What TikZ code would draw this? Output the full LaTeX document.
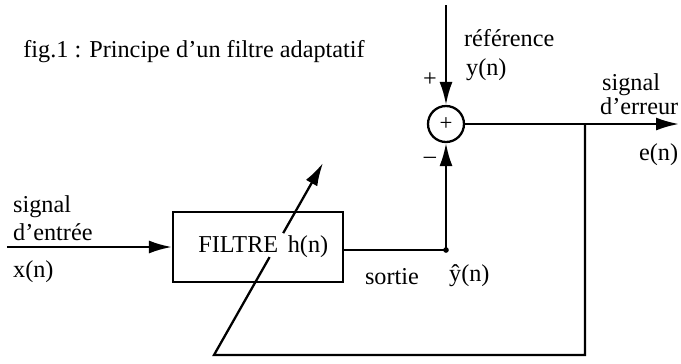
\documentclass[tikz,border=0pt]{standalone}
\usepackage{fontspec}
\setmainfont{Liberation Serif}
\usetikzlibrary{arrows.meta,calc}

\begin{document}
\begin{tikzpicture}[x=0.02cm,y=-0.02cm,line width=1.3pt,
    fleche/.style={-{Latex[length=4.6mm,width=2.6mm]}},
    txt/.style={inner sep=0pt,font=\fontsize{13.8}{16}\selectfont},
    bloc/.style={draw,minimum width=3.4cm,minimum height=1.4cm,inner sep=0pt,font=\fontsize{13.8}{16}\selectfont},
    somme/.style={draw,circle,minimum size=0.72cm,inner sep=0pt,font=\fontsize{13}{15}\selectfont}]
  \useasboundingbox (0,0) rectangle (681,363);
  \node[txt] (titre) at (194,52) {fig.1 : Principe d'un filtre adaptatif};
  % blocs
  \node[bloc] (filtre) at (258,247) {\hspace*{6pt}FILTRE\hspace{2pt} h(n)};
  \node[somme] (sum) at (446,124) {+};
  \coordinate (xin) at (7,247);
  \coordinate (ref) at (446,5);
  \coordinate (eout) at (679,124);
  \coordinate (jct) at (585,124);
  \coordinate (yhat) at (446,250);
  \coordinate (fbl) at (214,355);
  \coordinate (tip) at (323,163);
  % liaisons
  \draw[fleche] (xin) -- (filtre.west);
  \draw[fleche] (ref) -- (sum.north);
  \draw[fleche] (sum.east) -- (eout);
  \draw (filtre.east |- yhat) -- (yhat);
  \draw[fleche] (yhat) -- (sum.south);
  \fill (yhat) circle (1.6pt);
  \draw (jct) |- (fbl) -- ($(fbl)!0.51!(tip)$);
  \draw[fleche] ($(fbl)!0.635!(tip)$) -- (tip);
  % textes
  \node[txt,anchor=west] (sig1) at (12,207) {signal};
  \node[txt,anchor=west] (sig2) at (12,232) {d'entrée};
  \node[txt,anchor=west] (xn) at (12,272) {x(n)};
  \node[txt,anchor=west] (refl) at (463,38) {référence};
  \node[txt,anchor=west] (yn) at (465,70) {y(n)};
  \node[txt] (plus) at (430,80) {+};
  \node[txt] (moins) at (430,160) {\textendash};
  \node[txt,anchor=west] (err1) at (601,85) {signal};
  \node[txt,anchor=west] (err2) at (599,106) {d'erreur};
  \node[txt,anchor=west] (en) at (638,155) {e(n)};
  \node[txt] (sortie) at (392,277) {sortie};
  \node[txt,anchor=west] (yhatl) at (448,276) {ŷ(n)};
\end{tikzpicture}
\end{document}
